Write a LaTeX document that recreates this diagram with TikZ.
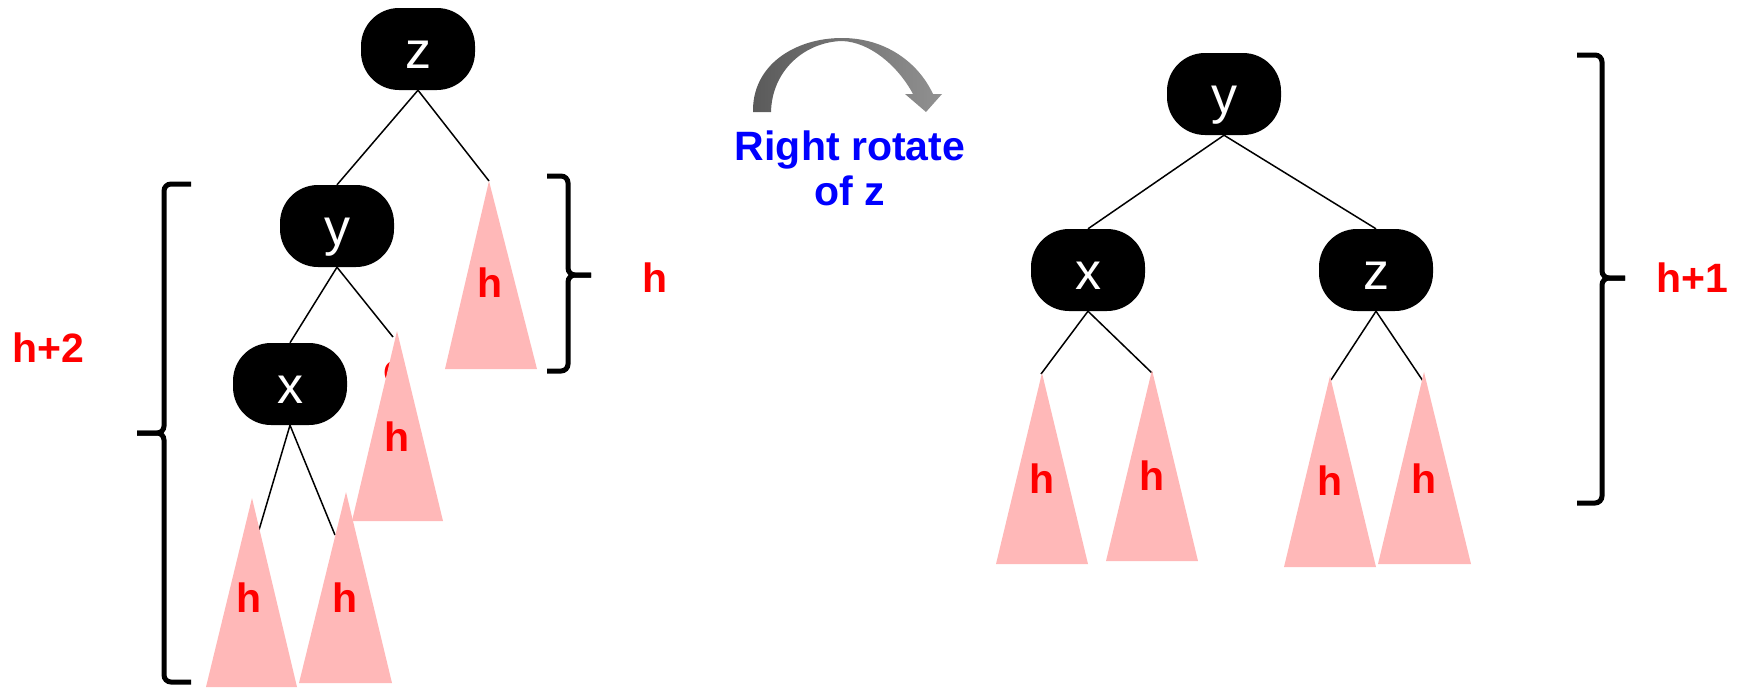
\documentclass[tikz,border=0pt]{standalone}
\usepackage{fontspec}
\setmainfont{Liberation Sans}
\definecolor{pinktri}{RGB}{255,184,184}
\definecolor{redlab}{RGB}{255,0,0}
\definecolor{bluelab}{RGB}{0,0,255}
\definecolor{arrowdark}{RGB}{90,90,90}
\definecolor{arrowlight}{RGB}{145,145,145}
\tikzset{
  treenode/.style={rectangle, fill=black, rounded corners=38pt, minimum width=114pt,
    minimum height=82pt, inner sep=0pt, text=white, font=\fontsize{52}{60}\selectfont,
    text height=40pt, text depth=2pt},
  edge/.style={line width=1.5pt, black},
  subtree/.style={fill=pinktri, draw=none},
  hlabel/.style={text=redlab, font=\fontsize{41}{48}\selectfont\bfseries, inner sep=0pt},
  bluelabel/.style={text=bluelab, font=\fontsize{41}{48}\selectfont\bfseries, inner sep=0pt},
  bracepath/.style={line width=5pt, black, rounded corners=7pt}
}
\begin{document}
\begin{tikzpicture}[x=1pt,y=-1pt]
\useasboundingbox (0,0) rectangle (1741,688);
% ---------- left tree ----------
\node[treenode] (lz) at (418,49) {z};
\node[treenode] (ly) at (337,226) {y};
\node[treenode] (lx) at (290,384) {x};
\coordinate (e1) at (489,181);
\coordinate (e2) at (393,337);
\coordinate (e3) at (259,530);
\coordinate (e4) at (335,535);
\draw[edge] (lz.south) -- (ly.north);
\draw[edge] (lz.south) -- (e1);
\draw[edge] (ly.south) -- (lx.north);
\draw[edge] (ly.south) -- (e2);
\draw[edge] (lx.south) -- (e3);
\draw[edge] (lx.south) -- (e4);
\node[hlabel] (hid) at (395,373) {c};
\coordinate (t1) at (489,181);
\coordinate (t2) at (397,331);
\coordinate (t3) at (252,498);
\coordinate (t4) at (346,492);
\fill[subtree] (t1) -- (445,369) -- (537,369) -- cycle;
\fill[subtree] (t2) -- (352,521) -- (443,521) -- cycle;
\fill[subtree] (t3) -- (206,687) -- (297,687) -- cycle;
\fill[subtree] (t4) -- (299,683) -- (392,683) -- cycle;
\node[hlabel] (h1) at (490,283) {h};
\node[hlabel] (h2) at (397,437) {h};
\node[hlabel] (h3) at (249,598) {h};
\node[hlabel] (h4) at (345,598) {h};
% ---------- right tree ----------
\node[treenode] (ry) at (1224,94) {y};
\node[treenode] (rx) at (1088,270) {x};
\node[treenode] (rz) at (1376,270) {z};
\coordinate (e5) at (1041,374);
\coordinate (e6) at (1152,373);
\coordinate (e7) at (1331,380);
\coordinate (e8) at (1423,381);
\draw[edge] (ry.south) -- (rx.north);
\draw[edge] (ry.south) -- (rz.north);
\draw[edge] (rx.south) -- (e5);
\draw[edge] (rx.south) -- (e6);
\draw[edge] (rz.south) -- (e7);
\draw[edge] (rz.south) -- (e8);
\coordinate (t5) at (1042,373);
\coordinate (t6) at (1152,370);
\coordinate (t7) at (1330,376);
\coordinate (t8) at (1424,372);
\fill[subtree] (t5) -- (996,564) -- (1088,564) -- cycle;
\fill[subtree] (t6) -- (1106,561) -- (1198,561) -- cycle;
\fill[subtree] (t7) -- (1284,567) -- (1376,567) -- cycle;
\fill[subtree] (t8) -- (1378,564) -- (1471,564) -- cycle;
\node[hlabel] (h5) at (1042,479) {h};
\node[hlabel] (h6) at (1152,476) {h};
\node[hlabel] (h7) at (1330,481) {h};
\node[hlabel] (h8) at (1424,479) {h};
% ---------- braces ----------
\draw[bracepath] (191,184) -| (164,433) -- (137,433);
\draw[bracepath] (137,433) -- (164,433) |- (191,682);
\draw[bracepath] (547,176) -| (568,275) -- (591,275);
\draw[bracepath] (591,275) -- (568,275) |- (547,371);
\draw[bracepath] (1577,55) -| (1602,278) -- (1625,278);
\draw[bracepath] (1625,278) -- (1602,278) |- (1577,503);
\node[hlabel] (lh2) at (48,348) {h+2};
\node[hlabel] (lh) at (655,278) {h};
\node[hlabel] (lh1) at (1692,278) {h+1};
% ---------- rotation arrow ----------
\shade[left color=arrowdark, right color=arrowlight]
  (753,112) .. controls (752,65) and (795,38) .. (842,38)
  .. controls (885,38) and (918,62) .. (933,94)
  -- (942,94) -- (926,112) -- (905,94) -- (913,94)
  .. controls (898,66) and (870,42) .. (842,41)
  .. controls (805,42) and (772,70) .. (771,112) -- cycle;
\node[bluelabel, anchor=base] (rot1) at (850,160) {Right rotate};
\node[bluelabel, anchor=base] (rot2) at (850,205) {of z};
\end{tikzpicture}
\end{document}
